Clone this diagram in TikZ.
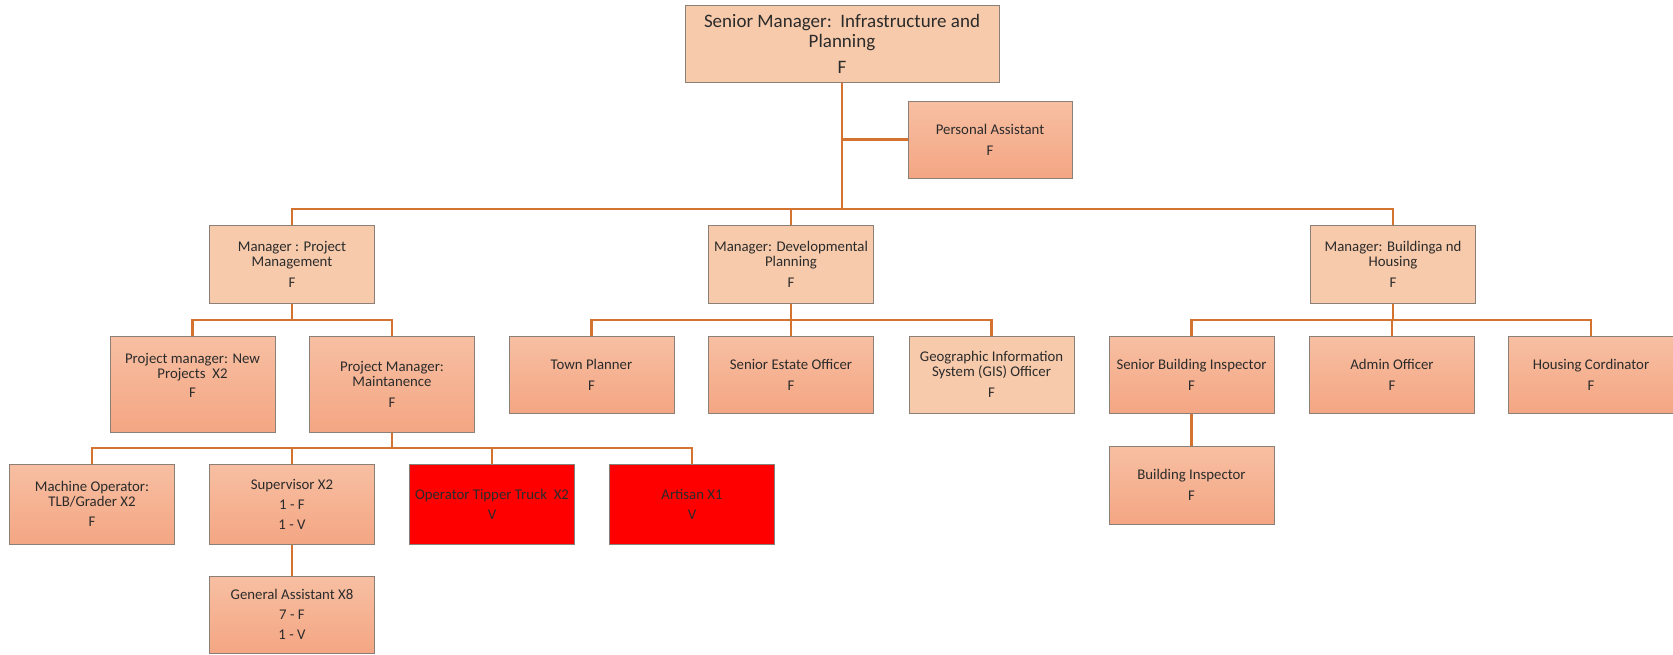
\documentclass[tikz,border=0pt]{standalone}
\usepackage{fontspec}
\setmainfont{Carlito}
\usepackage{xcolor}
\usepackage{tikz}
\usetikzlibrary{positioning}
\definecolor{linkc}{HTML}{D4722F}
\definecolor{edgec}{HTML}{8A8078}
\definecolor{lite}{HTML}{F7CAAB}
\definecolor{gradtop}{HTML}{F7BFA2}
\definecolor{gradbot}{HTML}{F4A683}
\definecolor{txtc}{HTML}{2B2B2B}
\tikzset{
  post/.style={draw=edgec, line width=1pt, minimum width=165pt, minimum height=77pt,
    inner sep=0pt, align=center, text=txtc, font=\fontsize{14.8}{15}\selectfont},
  litebox/.style={post, fill=lite},
  gradbox/.style={post, top color=gradtop, bottom color=gradbot},
  vacbox/.style={post, fill=red},
  link/.style={draw=linkc, line width=2.2pt},
  every picture/.style={line cap=butt, line join=miter}
}
\begin{document}
\begin{tikzpicture}[x=1pt, y=-1pt]
  \useasboundingbox (0,0) rectangle (1673,654);

  % top of the chart
  \node[litebox, minimum width=314pt, font=\fontsize{19}{20}\selectfont] (senior) at (842,43.5)
    {Senior Manager:\ \ Infrastructure and\\Planning\\[6pt]F};
  \node[gradbox, minimum width=164pt] (pa) at (990,139.5) {Personal Assistant\\[6pt]F};

  % managers
  \node[litebox, minimum height=78pt] (mpm) at (292,264) {Manager : Project\\Management\\[6pt]F};
  \node[litebox, minimum height=78pt] (mdp) at (791,264) {Manager: Developmental\\Planning\\[6pt]F};
  \node[litebox, minimum height=78pt] (mbh) at (1393,264) {Manager: Buildinga nd\\Housing\\[6pt]F};

  % third level
  \node[gradbox, minimum height=96pt] (pmnew) at (192.5,384)
    {Project manager: New\\Projects\ \ X2\\[4pt]F\\[3pt]\mbox{}};
  \node[gradbox, minimum height=96pt] (pmmaint) at (392,384) {Project Manager:\\Maintanence\\[6pt]F};
  \node[gradbox] (town) at (591.5,374.5) {Town Planner\\[6pt]F};
  \node[gradbox] (estate) at (791,374.5) {Senior Estate Officer\\[6pt]F};
  \node[litebox] (gis) at (991.5,374.5) {Geographic Information\\System (GIS) Officer\\[6pt]F};
  \node[gradbox] (sbi) at (1191.5,374.5) {Senior Building Inspector\\[6pt]F};
  \node[gradbox] (admin) at (1392,374.5) {Admin Officer\\[6pt]F};
  \node[gradbox] (housing) at (1591,374.5) {Housing Cordinator\\[6pt]F};
  \node[gradbox, minimum height=78pt] (bi) at (1191.5,485) {Building Inspector\\[6pt]F};

  % maintenance team
  \node[gradbox, minimum height=80pt] (machine) at (92,504) {Machine Operator:\\TLB/Grader X2\\[5pt]F};
  \node[gradbox, minimum height=80pt] (super) at (292,504) {Supervisor X2\\[5pt]1 - F\\[5pt]1 - V};
  \node[vacbox, minimum height=80pt] (tipper) at (492,504) {Operator Tipper Truck\ \ X2\\[5pt]V};
  \node[vacbox, minimum height=80pt] (artisan) at (692,504) {Artisan X1\\[5pt]V};
  \node[gradbox] (general) at (292,614.5) {General Assistant X8\\[5pt]7 - F\\[5pt]1 - V};

  % bus points
  \coordinate (busA) at (842,209);
  \coordinate (paJoin) at (842,139.5);
  \coordinate (busPM) at (292,320);
  \coordinate (busDP) at (791,320);
  \coordinate (busBH) at (1393,320);
  \coordinate (busMT) at (392,448);

  % connectors
  \draw[link] (paJoin) -- (pa.west);
  \foreach \c in {mpm,mdp,mbh}
    \draw[link] (senior.south) -- (busA) -| (\c.north);
  \foreach \c in {pmnew,pmmaint}
    \draw[link] (mpm.south) -- (busPM) -| (\c.north);
  \foreach \c in {town,estate,gis}
    \draw[link] (mdp.south) -- (busDP) -| (\c.north);
  \foreach \c in {sbi,admin,housing}
    \draw[link] (mbh.south) -- (busBH) -| (\c.north);
  \foreach \c in {machine,super,tipper,artisan}
    \draw[link] (pmmaint.south) -- (busMT) -| (\c.north);
  \draw[link] (super.south) -- (general.north);
  \draw[link] (sbi.south) -- (bi.north);
\end{tikzpicture}
\end{document}
